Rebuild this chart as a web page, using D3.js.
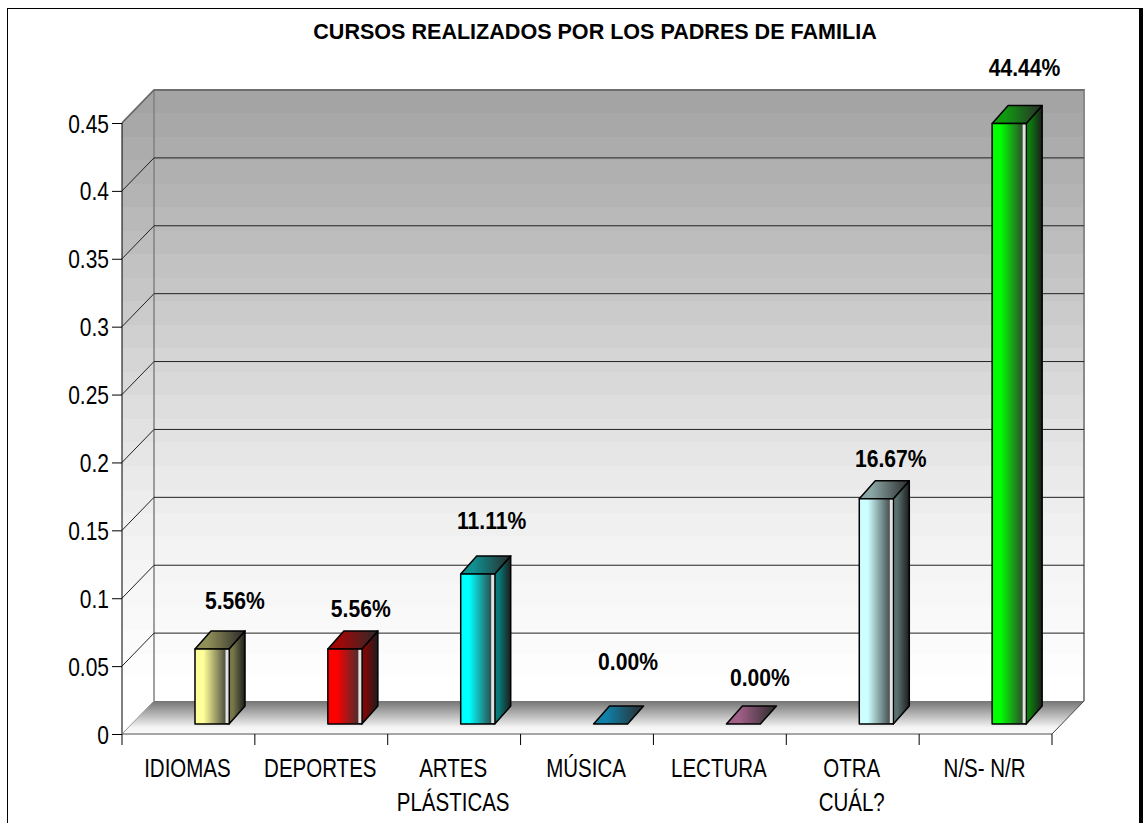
<!DOCTYPE html>
<html><head><meta charset="utf-8">
<script src="https://cdn.jsdelivr.net/npm/d3@7"></script>
<style>html,body{margin:0;padding:0;background:#fff;overflow:hidden}svg{display:block}text{font-family:"Liberation Sans",Arial,sans-serif;fill:#000}</style>
</head><body><svg id="c" width="1143" height="823"></svg>
<script>
const categories=[["IDIOMAS"],["DEPORTES"],["ARTES","PLÁSTICAS"],["MÚSICA"],["LECTURA"],["OTRA","CUÁL?"],["N/S- N/R"]];
const values=[0.0556,0.0556,0.1111,0,0,0.1667,0.4444];
const valueLabels=["5.56%","5.56%","11.11%","0.00%","0.00%","16.67%","44.44%"];
const labelLift=[49.5,42,54,64.5,48,41,55];
const labelShift=[46.5,39.5,37.5,41,40,38,39];
const frontColors=["#ffff99","#ff0000","#00ffff","#1888b0","#b06a98","#ccffff","#00ff00"];
const sideColors=["#77774a","#7a0808","#087a7a","#0c5570","#704a65","#5a7070","#0c7a0c"];
const topColors=["#8f8f58","#a00808","#109090","#1080a8","#a06088","#8aa5a5","#109a10"];
const yTicks=[0,0.05,0.1,0.15,0.2,0.25,0.3,0.35,0.4,0.45];
const title="CURSOS REALIZADOS POR LOS PADRES DE FAMILIA";

const svg=d3.select("#c"),defs=svg.append("defs");
const x=d3.scaleBand().domain(d3.range(categories.length)).range([122,1052]);
const y=d3.scaleLinear().domain([0,0.45]).range([734,123]);
const yBar=d3.scaleLinear().domain([0,0.45]).range([724,116]);
const dx=32,dy=33,barW=34,barDx=16,barDy=18;
const poly=p=>p.map(d=>d.join(",")).join(" ");

const nBands=26,wall=defs.append("linearGradient").attr("id","wall").attr("gradientUnits","userSpaceOnUse")
  .attr("x1",0).attr("x2",0).attr("y1",y(0.45)-dy).attr("y2",y(0)-dy);
const wallC=d3.interpolateRgbBasis(["#a4a4a4","#b8b8b8","#d0d0d0","#e8e8e8","#f6f6f6","#ffffff"]);
d3.range(nBands).forEach(i=>{const c=wallC(i/(nBands-1));
  wall.append("stop").attr("offset",i/nBands).attr("stop-color",c);
  wall.append("stop").attr("offset",(i+1)/nBands).attr("stop-color",c);});
const floor=defs.append("linearGradient").attr("id","floor").attr("x1",0).attr("x2",0).attr("y1",0).attr("y2",1);
floor.append("stop").attr("offset",0).attr("stop-color","#747474");
floor.append("stop").attr("offset",0.8).attr("stop-color","#f4f4f4");
floor.append("stop").attr("offset",1).attr("stop-color","#fafafa");
function grad(id,a,b,vertical){const g=defs.append("linearGradient").attr("id",id).attr("x1",0).attr("y1",0).attr("x2",vertical?0:1).attr("y2",vertical?1:0);
  g.append("stop").attr("offset",0).attr("stop-color",a);
  g.append("stop").attr("offset",0.25).attr("stop-color",a);
  g.append("stop").attr("offset",1).attr("stop-color",b);}

svg.append("rect").attr("x",7.5).attr("y",8.5).attr("width",1133).attr("height",830).attr("fill","#fff").attr("stroke","#000");
svg.append("rect").attr("x",1139).attr("y",8).attr("width",4).attr("height",815).attr("fill","#000");

const xL=122,xR=1052,y0=y(0),yT=y(0.45);
svg.append("polygon").attr("points",poly([[xL+dx,yT-dy],[xR+dx,yT-dy],[xR+dx,y0-dy],[xL+dx,y0-dy]])).attr("fill","url(#wall)");
svg.append("polygon").attr("points",poly([[xL,yT],[xL+dx,yT-dy],[xL+dx,y0-dy],[xL,y0]])).attr("fill","url(#wall)");
svg.append("polygon").attr("points",poly([[xL,y0],[xL+dx,y0-dy],[xR+dx,y0-dy],[xR,y0]])).attr("fill","url(#floor)");
svg.append("path").attr("d",`M${xL},${yT}L${xL+dx},${yT-dy}L${xR+dx},${yT-dy}L${xR+dx},${y0-dy}`).attr("fill","none").attr("stroke","#8a8a8a").attr("stroke-width",2);
svg.append("line").attr("x1",xL+dx).attr("x2",xL+dx).attr("y1",yT-dy).attr("y2",y0-dy).attr("stroke","#808080").attr("stroke-width",1.5);
svg.append("path").attr("d",`M${xL},${y0}L${xL+dx},${y0-dy}`).attr("fill","none").attr("stroke","#999");
svg.append("path").attr("d",`M${xR},${y0}L${xR+dx},${y0-dy}`).attr("fill","none").attr("stroke","#444");
yTicks.filter(t=>t>0).forEach(t=>{
  svg.append("path").attr("d",`M${xL},${y(t)}L${xL+dx},${y(t)-dy}L${xR+dx},${y(t)-dy}`).attr("fill","none").attr("stroke",t==0.45?"#555":"#222").attr("stroke-width",1);
});
const sx=(txt,cx,base,size,w,sq,anchor)=>{
  const g=svg.append("g").attr("transform",`translate(${cx},${base}) scale(${sq},1)`);
  g.append("text").attr("text-anchor",anchor||"middle").attr("font-size",size).attr("font-weight",w).text(txt);
};
const yAxis=svg.append("g").attr("transform",`translate(${xL},0)`).call(d3.axisLeft(y).tickValues(yTicks).tickSize(10).tickFormat(()=>""));
yAxis.selectAll("path").attr("stroke","#000").attr("d",`M0,${yT}V${y0}`);
yAxis.selectAll("line").attr("stroke","#000");
yTicks.forEach(t=>sx(String(t),109,y(t)+9.5,25,"normal",0.84,"end"));
svg.append("line").attr("x1",xL).attr("x2",xR).attr("y1",y0).attr("y2",y0).attr("stroke","#888").attr("stroke-width",1.5);
d3.range(categories.length+1).forEach(i=>{const tx=i<categories.length?x(i):xR;
  svg.append("line").attr("x1",tx).attr("x2",tx).attr("y1",y0).attr("y2",y0+11).attr("stroke","#000");});
categories.forEach((c,i)=>c.forEach((ln,j)=>sx(ln,x(i)+x.bandwidth()/2-1,777+j*34,25,"normal",0.82)));

const shiftX=73;
values.forEach((v,i)=>{
  const l=x(i)+shiftX,r=l+barW,b=yBar(0),t=yBar(v);
  grad("f"+i,frontColors[i],"#333333",false);
  grad("s"+i,sideColors[i],"#1c1c1c",false);
  grad("t"+i,topColors[i],"#2a2a2a",false);
  const g=svg.append("g").attr("stroke","#000").attr("stroke-width",1.5).attr("stroke-linejoin","round");
  if(v>0){
    g.append("polygon").attr("points",poly([[r,t],[r+barDx,t-barDy],[r+barDx,b-barDy],[r,b]])).attr("fill",`url(#s${i})`);
    g.append("polygon").attr("points",poly([[l,t],[l+barDx,t-barDy],[r+barDx,t-barDy],[r,t]])).attr("fill",`url(#t${i})`);
    g.append("rect").attr("x",l).attr("y",t).attr("width",barW).attr("height",b-t).attr("fill",`url(#f${i})`);
    svg.append("rect").attr("x",r-3.5).attr("y",t+1).attr("width",3).attr("height",b-t-2).attr("fill","#fff").attr("opacity",0.85);
  } else {
    g.append("polygon").attr("points",poly([[l,b],[l+barDx,b-barDy],[r+barDx,b-barDy],[r,b]])).attr("fill",`url(#t${i})`);
  }
  sx(valueLabels[i],x(i)+x.bandwidth()/2+labelShift[i],y(v)-labelLift[i],24,"bold",0.88);
});
sx(title,595,39,22,"bold",0.98);
</script></body></html>
